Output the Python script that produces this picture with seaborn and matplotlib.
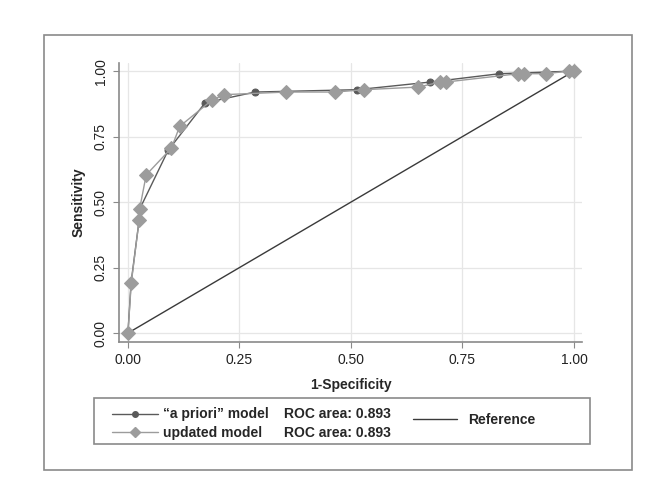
import matplotlib
matplotlib.use('Agg')
import matplotlib.pyplot as plt
import seaborn as sns
from matplotlib.lines import Line2D
from matplotlib.patches import Rectangle

# "a priori" model ROC points (1-specificity, sensitivity)
apriori_fpr = [0.0, 0.007, 0.025, 0.026, 0.090, 0.173, 0.285, 0.514, 0.677, 0.833, 1.0]
apriori_tpr = [0.0, 0.192, 0.430, 0.472, 0.697, 0.879, 0.920, 0.929, 0.958, 0.990, 1.0]

# updated model ROC points
updated_fpr = [0.0, 0.0075, 0.025, 0.026, 0.041, 0.0975, 0.116, 0.1875, 0.215, 0.355,
               0.465, 0.529, 0.651, 0.700, 0.712, 0.875, 0.888, 0.937, 0.988, 1.0]
updated_tpr = [0.0, 0.192, 0.430, 0.472, 0.604, 0.706, 0.789, 0.888, 0.910, 0.920,
               0.920, 0.929, 0.939, 0.958, 0.958, 0.990, 0.990, 0.990, 1.0, 1.0]

ref_x = [0.0, 1.0]
ref_y = [0.0, 1.0]

ticks = [0.0, 0.25, 0.5, 0.75, 1.0]
tick_labels = ['0.00', '0.25', '0.50', '0.75', '1.00']
roc_label = 'ROC area: 0.893'

dark = '#5a5a5a'
light = '#9c9c9c'
ref_color = '#3a3a3a'
frame_color = '#8a8a8a'

sns.set_style('white')
plt.rcParams['font.family'] = ['Liberation Sans', 'DejaVu Sans']

fig = plt.figure(figsize=(6.66, 5), dpi=100)
fig.patch.set_facecolor('white')

# outer frame
fig.patches.append(Rectangle((0.0661, 0.06), 0.883, 0.87, transform=fig.transFigure,
                             fill=False, edgecolor=frame_color, linewidth=1.2))

ax = fig.add_axes([0.1787, 0.316, 0.6952, 0.5586])

sns.lineplot(x=ref_x, y=ref_y, ax=ax, color=ref_color, linewidth=1.0, sort=False)
sns.lineplot(x=apriori_fpr, y=apriori_tpr, ax=ax, color=dark, linewidth=1.0, sort=False,
             marker='o', markersize=5, markeredgecolor=dark, markerfacecolor=dark)
sns.lineplot(x=updated_fpr, y=updated_tpr, ax=ax, color=light, linewidth=1.0, sort=False,
             marker='D', markersize=7, markeredgecolor=light, markerfacecolor=light)

ax.set_xlim(-0.020, 1.018)
ax.set_ylim(-0.034, 1.032)
ax.set_xticks(ticks)
ax.set_xticklabels(tick_labels, fontsize=10, color='#222222')
ax.set_yticks(ticks)
ax.set_yticklabels(tick_labels, fontsize=10, color='#222222', rotation=90, va='center')
ax.grid(True, color='#e6e6e6', linewidth=0.9)
ax.set_axisbelow(True)
ax.tick_params(axis='both', which='major', length=4, width=0.8, color=frame_color,
               direction='out', bottom=True, left=True, pad=4)
for side in ['top', 'right']:
    ax.spines[side].set_visible(False)
for side in ['left', 'bottom']:
    ax.spines[side].set_color(frame_color)
    ax.spines[side].set_linewidth(1.2)

ax.set_xlabel('1-Specificity', fontsize=10, fontweight='bold', labelpad=8)
ax.set_ylabel('Sensitivity', fontsize=10, fontweight='bold', labelpad=6)

# legend box
fig.patches.append(Rectangle((0.1411, 0.112), 0.7447, 0.092, transform=fig.transFigure,
                             fill=False, edgecolor=frame_color, linewidth=1.2))

handles = [Line2D([], [], color=dark, marker='o', markersize=4, linewidth=1.0),
           Line2D([], [], color=light, marker='D', markersize=5.5, linewidth=1.0)]
leg1 = fig.legend(handles, ['\u201ca priori\u201d model', 'updated model'],
                  loc='center left', bbox_to_anchor=(112 / 666, 1 - 423.5 / 500),
                  frameon=False, borderpad=0, borderaxespad=0, handlelength=3.3,
                  handletextpad=0.35, labelspacing=0.3,
                  prop={'weight': 'bold', 'size': 10})

fig.text(284 / 666, 1 - 414 / 500, roc_label, fontsize=10, fontweight='bold',
         ha='left', va='center')
fig.text(284 / 666, 1 - 432.7 / 500, roc_label, fontsize=10, fontweight='bold',
         ha='left', va='center')

ref_handle = [Line2D([], [], color=ref_color, linewidth=1.0)]
leg2 = fig.legend(ref_handle, ['Reference'], loc='center left',
                  bbox_to_anchor=(412.7 / 666, 1 - 420 / 500), frameon=False,
                  borderpad=0, borderaxespad=0, handlelength=3.2, handletextpad=0.8,
                  prop={'weight': 'bold', 'size': 10})

fig.savefig('out.png', dpi=100, facecolor='white')
